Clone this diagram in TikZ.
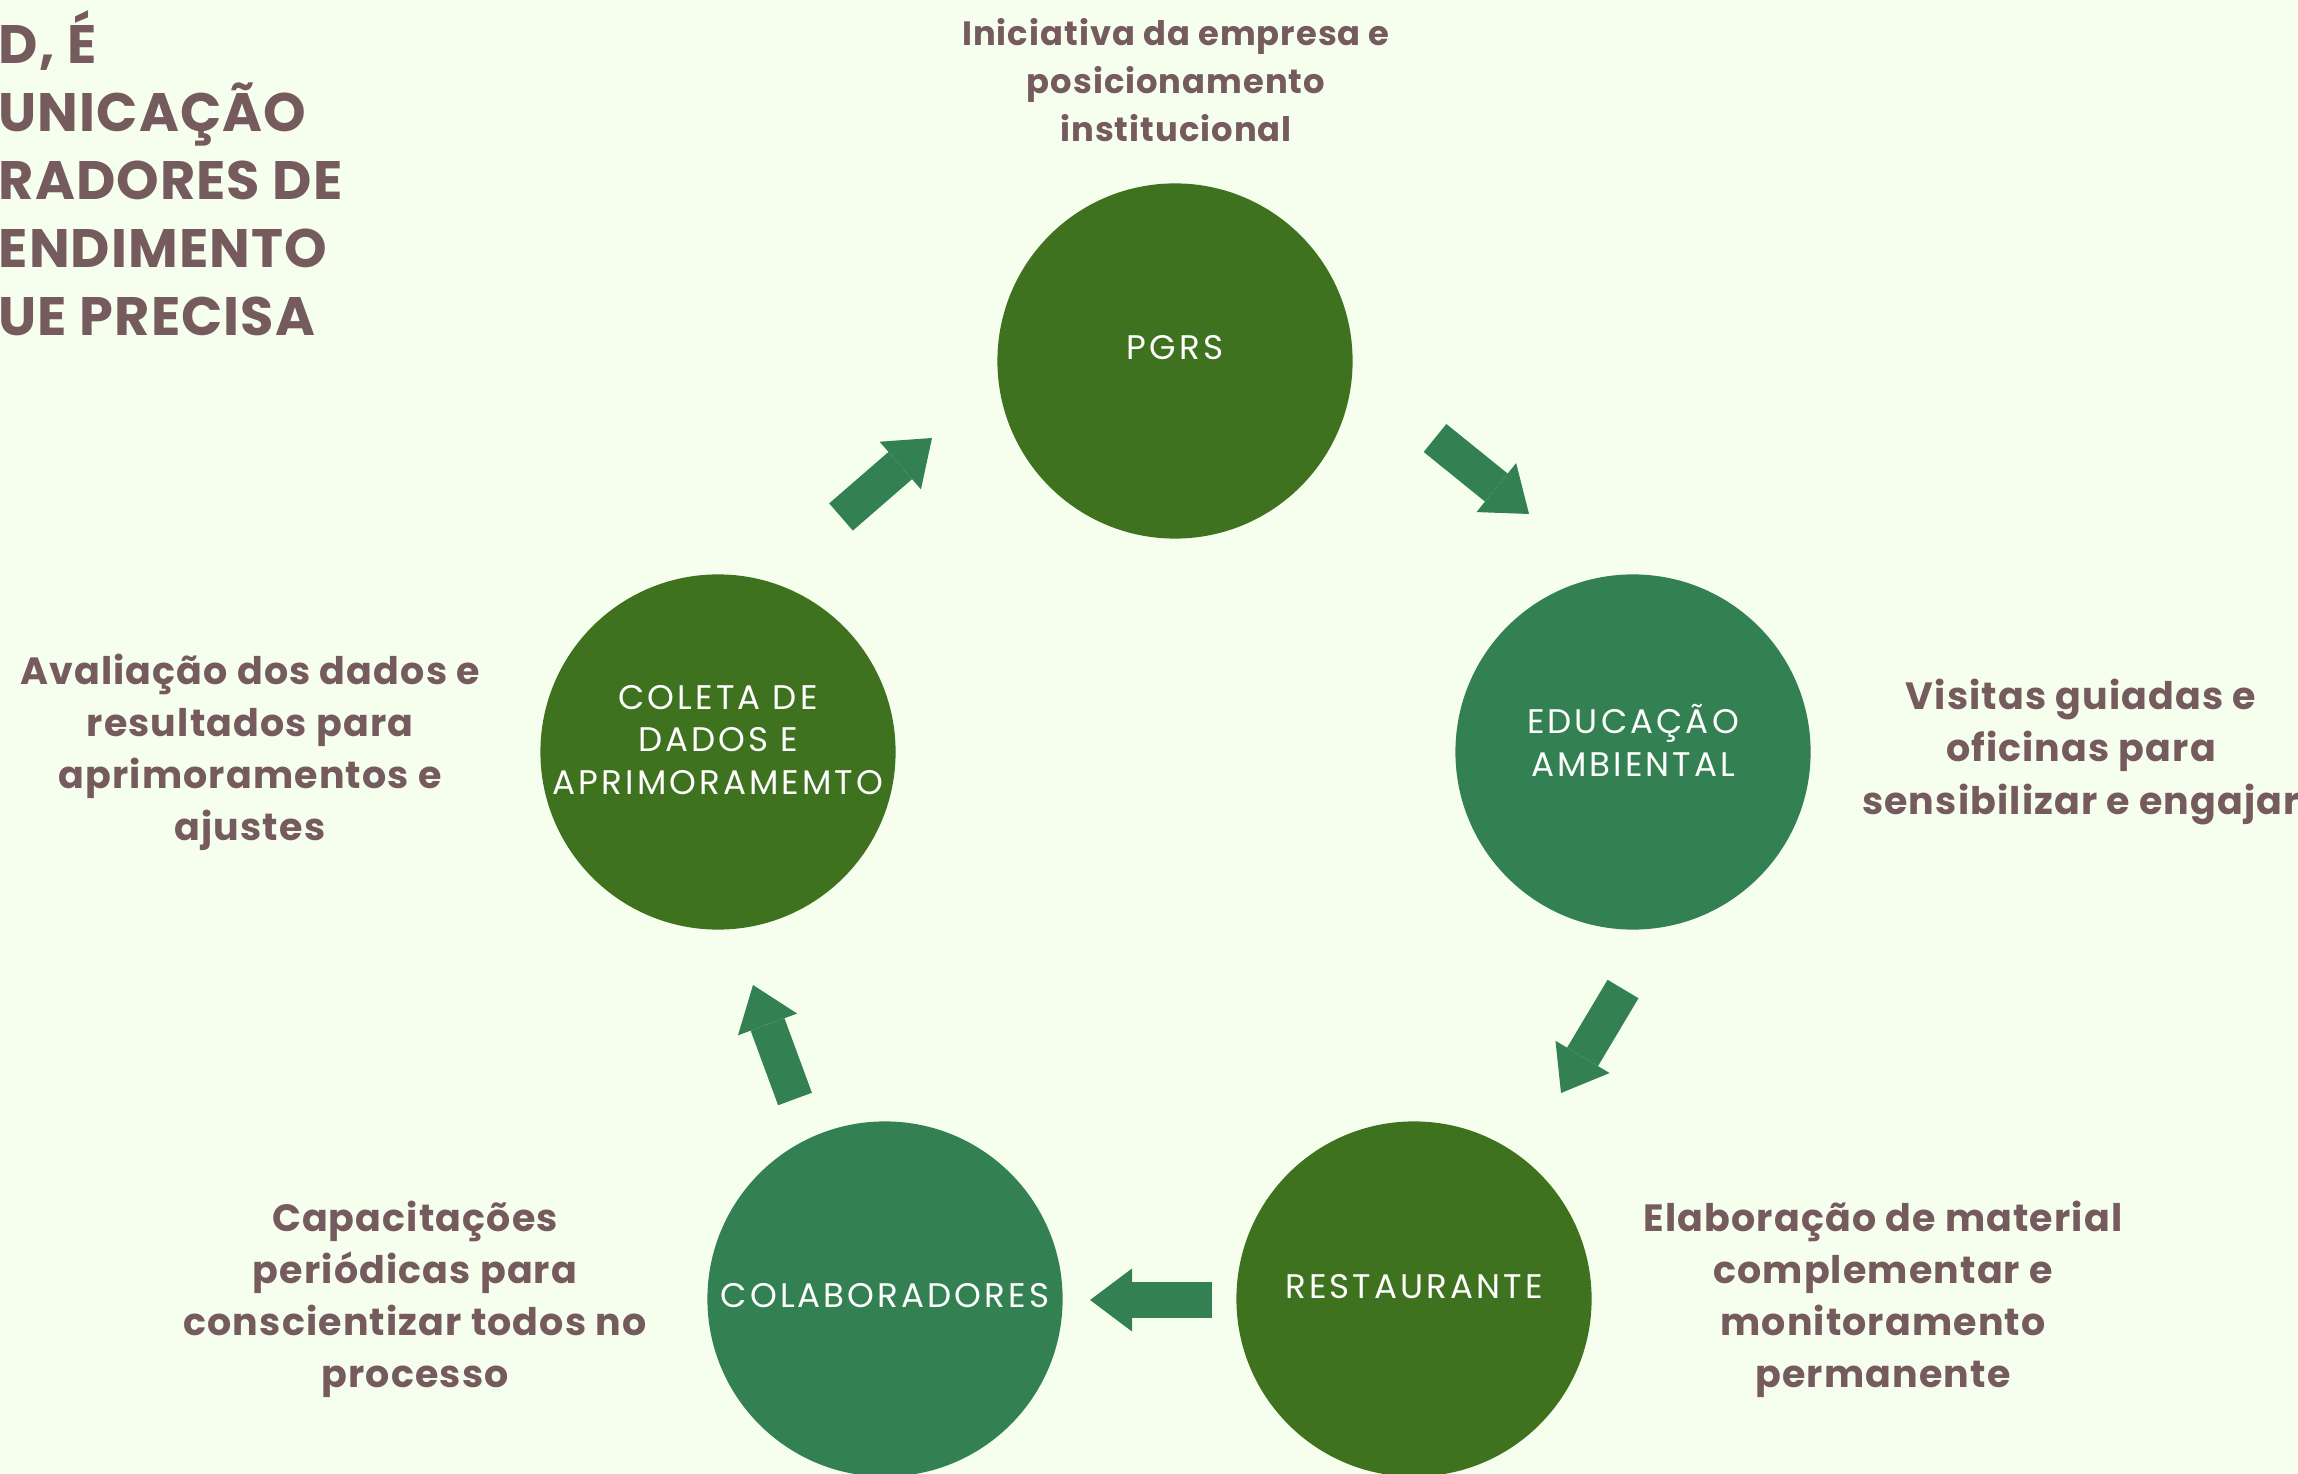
\documentclass[tikz,border=0pt]{standalone}
\usepackage{fontspec}
\setmainfont{Poppins}
\newfontfamily\titlefont{Poppins}[LetterSpace=2]
\newfontfamily\notefont{Poppins}[LetterSpace=3]
\newfontfamily\stagefont{Poppins}[LetterSpace=9]
\usetikzlibrary{arrows.meta}
\definecolor{bgcol}{HTML}{F6FFEE}
\definecolor{darkleaf}{HTML}{3F721F}
\definecolor{seagreen}{HTML}{338152}
\definecolor{notecol}{HTML}{765B5E}
\tikzset{stage/.style={circle,minimum size=3.55cm,inner sep=0pt},
         stagetext/.style={text=white,align=center,inner sep=0pt,font=\stagefont\fontsize{9.7}{12.2}\selectfont},
         note/.style={text=notecol,align=center,inner sep=0pt,font=\notefont\bfseries\fontsize{10.8}{14.8}\selectfont},
         flow/.style={seagreen,line width=0.36cm,-{Triangle[length=0.42cm,width=0.63cm,line width=0pt]}}
     }
\begin{document}
\begin{tikzpicture}[x=0.01cm,y=-0.01cm]
\useasboundingbox (0,0) rectangle (2298,1474);
\fill[bgcol] (0,0) rectangle (2298,1474);
% title, cut off at the left edge
\node[text=notecol,align=left,anchor=north west,inner sep=0pt,font=\titlefont\bfseries\fontsize{15.4}{19.3}\selectfont] (title) at (-2,10)
  {D, É\\UNICAÇÃO\\RADORES DE\\ENDIMENTO\\UE PRECISA};
% the five stages
\node[stage,fill=darkleaf] (pgrs) at (1175,361) {};
\node[stage,fill=seagreen] (edu) at (1633,752) {};
\node[stage,fill=darkleaf] (rest) at (1414,1299) {};
\node[stage,fill=seagreen] (colab) at (885,1299) {};
\node[stage,fill=darkleaf] (coleta) at (718,752) {};
\node[stagetext] (pgrs-t) at ([yshift=0.13cm]pgrs.center) {PGRS};
\node[stagetext] (edu-t) at ([yshift=0.12cm]edu.center) {EDUCAÇÃO\\AMBIENTAL};
\node[stagetext] (rest-t) at ([yshift=0.12cm]rest.center) {RESTAURANTE};
\node[stagetext] (colab-t) at ([yshift=0.03cm]colab.center) {COLABORADORES};
\node[stagetext] (coleta-t) at ([yshift=0.12cm]coleta.center) {COLETA DE\\DADOS E\\APRIMORAMEMTO};
% notes
\node[note,font=\notefont\bfseries\fontsize{9.6}{13.7}\selectfont] (n-pgrs) at (1176,80) {Iniciativa da empresa e\\posicionamento\\institucional};
\node[note] (n-edu) at (2081,752) {Visitas guiadas e\\oficinas para\\sensibilizar e engajar};
\node[note] (n-rest) at (1883,1299) {Elaboração de material\\complementar e\\monitoramento\\permanente};
\node[note] (n-colab) at (415,1299) {Capacitações\\periódicas para\\conscientizar todos no\\processo};
\node[note] (n-coleta) at (250,752) {Avaliação dos dados e\\resultados para\\aprimoramentos e\\ajustes};
% arrows
\coordinate (a1) at (841,517); \coordinate (b1) at (932,438);
\coordinate (a2) at (1435,438); \coordinate (b2) at (1529,514);
\coordinate (a3) at (1623,989); \coordinate (b3) at (1561,1093);
\coordinate (a4) at (1212,1300); \coordinate (b4) at (1090,1300);
\coordinate (a5) at (795,1099); \coordinate (b5) at (753,985);
\draw[flow] (a1) -- (b1);
\draw[flow] (a2) -- (b2);
\draw[flow] (a3) -- (b3);
\draw[flow] (a4) -- (b4);
\draw[flow] (a5) -- (b5);
\end{tikzpicture}
\end{document}
